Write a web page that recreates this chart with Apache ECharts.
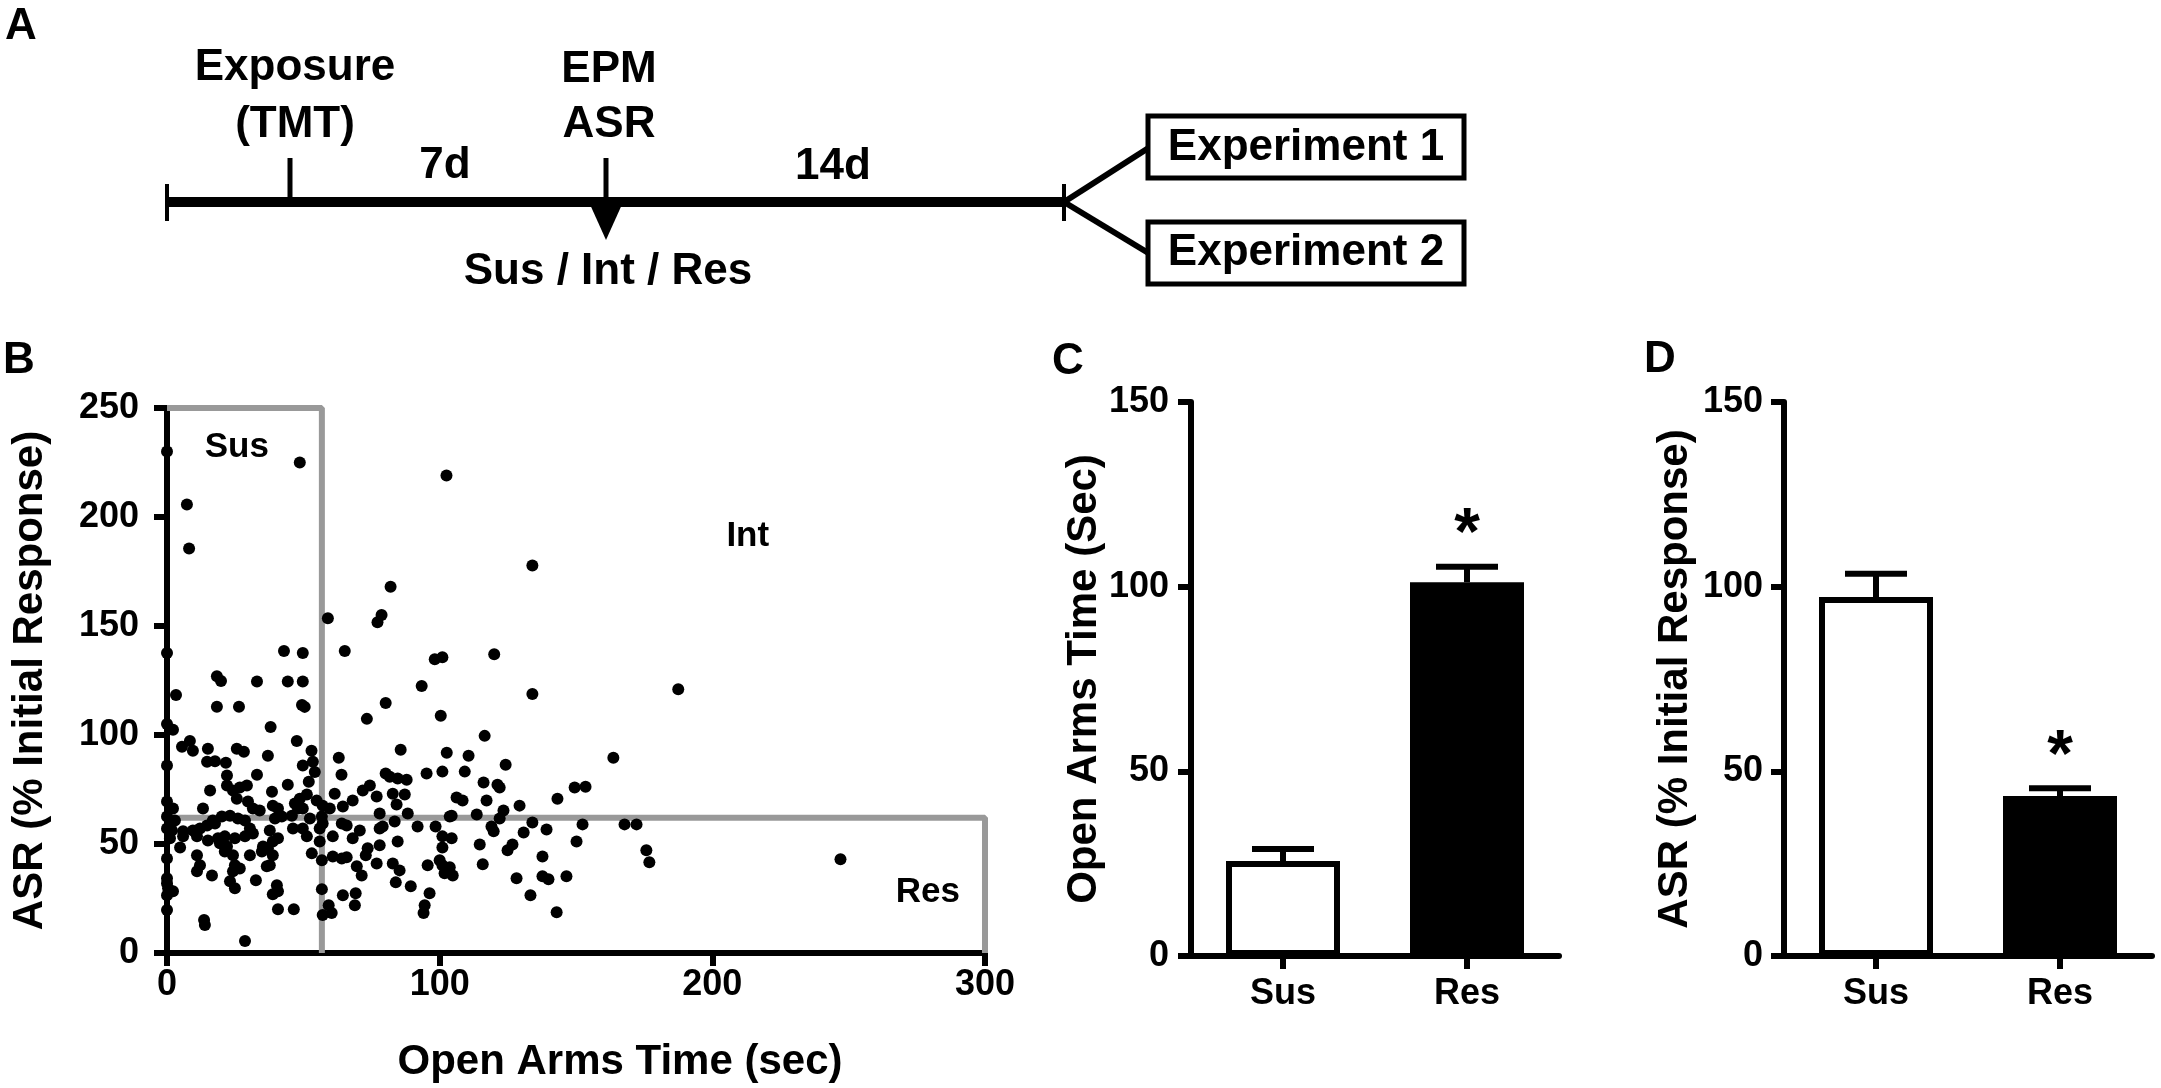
<!DOCTYPE html>
<html>
<head>
<meta charset="utf-8">
<title>TMT exposure: EPM / ASR</title>
<script src="https://cdn.jsdelivr.net/npm/echarts@6/dist/echarts.min.js"></script>
<style>
  html, body { margin: 0; padding: 0; background: #fff; }
  #main { width: 2161px; height: 1088px; }
</style>
</head>
<body>
<div id="main"></div>
<script>
// ---- data ----
// panel B: each rat, [open arms time (sec), ASR (% initial response)]
const scatterPoints = [
  [0,230],[48.7,225],[7.3,205.7],[8.1,185.6],[102.5,219],[82,168],[59,153.6],[77.2,151.7],[78.7,155],
  [0,137.6],[42.9,138.5],[49.8,137.6],[65.2,138.5],[98.2,134.8],[101,135.7],[120,137],
  [18.3,127],[19.8,124.8],[33,124.5],[44.3,124.5],[49.8,124.5],
  [3.3,118.4],[93.4,122.5],[18.3,113],[26.4,113],[49.5,113.8],[50.5,112.9],[80.2,114.7],[73.3,107.4],
  [100.4,108.8],[0,105],[2.2,102.4],[38,103.7],[47.6,97.3],[8.4,97.3],[5.5,94.6],[9.5,92.8],[15,93.7],
  [25.6,93.7],[28.2,92.3],[53,92.8],[85.7,93.2],[102.6,91.9],[37,90.5],[63,89.6],
  [0,86],[14.7,87.7],[17.6,88],[21.6,87.3],[49.8,86],[53.5,87.7],[54.2,83],
  [22,81.4],[22,76.8],[33,81.8],[64,81.8],[80.2,82.3],[81.7,80.9],[84.6,80],[87.9,79.5],[95.2,82.3],
  [101,83.2],[52,78.6],[44.3,77.2],[29.3,76.8],[26.7,75.9],[24.2,74.5],[71.8,74.5],[74.4,76.8],
  [15.8,74.5],[38.5,74],[61.5,73.1],[82.8,73.1],[87.2,72.7],[25.6,70.8],[76.9,71.8],[51.3,72.7],
  [48.7,70.8],[46.9,68.6],[68.1,70],[84.2,68.1],[0,69.5],[2.2,66.3],[13.2,66.3],[29.7,69.5],[31.5,66.3],
  [34,65.4],[38.8,67.6],[40.7,66.3],[54.9,69.9],[57.1,67.6],[59.7,66.3],[64.5,67.2],[78,64],[88.3,64],
  [103.7,62.6],[0,62.6],[2.9,60.8],[16.8,60.8],[20.1,62.6],[23.1,63],[26,61.7],[28.6,60.8],[39.6,61.7],
  [42.1,62.6],[45.8,63],[48,66.3],[49.8,66.3],[52.4,61.7],[56.8,62.6],[57.1,59.4],[64.1,59.4],[65.9,58.5],
  [83.5,60.3],[0,57.1],[1.8,56.2],[5.9,55.8],[9.5,56.2],[12.1,57.1],[14.7,58.5],[17.6,59.4],[30.4,57.1],
  [31.5,54.8],[37.7,56.2],[40.7,52.6],[38.8,51.2],[46.2,57.1],[49.8,57.1],[51.3,53.5],[56,57.1],
  [60.8,53.5],[70.7,56.2],[78,57.1],[79.1,58],[91.9,58],[98.5,58],[101,53.5],
  [1.1,52.6],[5.9,53.5],[11,53.5],[15,51.6],[18.7,52.6],[21.2,53.5],[24.9,52.6],[28.6,53.5],[19.4,50.3],
  [22,48.9],[35.2,48.9],[37,48],[56,51.2],[68.1,52.6],[84.6,51.2],[78,49.4],[4.8,48.4],[73.6,48],
  [72.9,44.8],[101,48.4],[11,44.8],[21.2,46.6],[24.2,44.8],[30.4,44.8],[34.8,46.6],[38.8,44.8],
  [53.1,45.7],[60.8,44.3],[64.1,43.4],[65.9,43.9],[0,43.4],[56.8,42.5],[76.9,41.1],[82.8,41.1],
  [85.3,37.9],[95.6,40.2],[100,42.5],[101,40.2],[12.1,40.2],[11,37.5],[24.9,40.2],[26.7,38.8],
  [24.2,37.5],[36.6,39.8],[37.7,40.2],[69.6,39.8],[71.4,35.6],[101.8,36.6],[16.5,35.6],
  [0,34.3],[0,32],[0.4,29.7],[2.2,28.3],[0,26.5],[23.1,32.9],[24.9,29.7],[32.6,33.4],[40.3,31.1],
  [38.8,27],[40.7,28.3],[56.8,29.3],[83.9,32.4],[89.4,30.6],[96.3,27.4],[64.5,26.5],[69.2,27.4],
  [0,19.7],[40.7,20.1],[46.5,20.1],[59.3,21.9],[60.4,18.3],[57.1,17.4],[68.9,21.9],[94.5,21.9],
  [94.1,18.3],[13.6,15.1],[13.9,12.8],[28.6,5.5],
  [134,177.8],[134,118.8],[187.5,121],[116.5,99.6],[110.6,90.5],[163.7,89.6],
  [124.2,86.4],[109.2,83.2],[116.1,78.2],[121.2,77.2],[122,75.9],[149.5,75.9],[153.5,76.3],
  [106.2,71.3],[108.4,70],[117.2,70],[143.2,70.8],[129.3,67.6],[123.4,65.4],[104.4,63],[113.6,63.5],
  [122,61.7],[134,59.9],[119,58],[119.8,55.8],[139.2,56.7],[152.4,59],[167.8,59],[172.2,59],
  [130.8,55.3],[104.4,52.6],[114.7,49.8],[126.7,49.8],[124.9,47.1],[150.2,51.2],[175.8,47.1],
  [176.9,41.6],[137.7,44.3],[115.8,40.7],[103.7,39.3],[104.8,35.6],[128.2,34.3],[137.7,35.2],
  [139.9,33.8],[146.5,35.2],[133.3,26.5],[142.9,18.7],[247,43]
];
// cut-off boxes drawn on panel B
const susBox = [[0, 250], [56.8, 250], [56.8, 0]];
const resBox = [[0, 62], [300, 62], [300, 0]];
const regionLabels = [['Sus', 25.6, 232], ['Int', 213, 191], ['Res', 279, 28]];

// panels C and D
const groups = ['Sus', 'Res'];
const openArmsMean = [25.7, 101.2];
const openArmsSem = [3.3, 4.2];
const asrMean = [97.2, 43.3];
const asrSem = [6.3, 2.1];
const starOpenArms = [[1, 117.5]];
const starAsr = [[1, 57.5]];

// tick labels
const scatterXTicks = [0, 100, 200, 300];
const scatterYTicks = [0, 50, 100, 150, 200, 250];
const barYTicks = [0, 50, 100, 150];

const FONT = '"Liberation Sans", Arial, sans-serif';
const chart = echarts.init(document.getElementById('main'));

function axisStyle(labelMargin) {
  return {
    axisLine: { show: true, onZero: false, lineStyle: { color: '#000', width: 6 } },
    axisTick: { show: true, inside: false, length: 13, lineStyle: { color: '#000', width: 6 } },
    axisLabel: { margin: labelMargin, color: '#000', fontSize: 36, fontWeight: 'bold', fontFamily: FONT },
    splitLine: { show: false },
    nameTextStyle: { color: '#000', fontSize: 42, fontWeight: 'bold', fontFamily: FONT }
  };
}

function valueAxis(gridIndex, ticks, labelMargin, extra) {
  return Object.assign(axisStyle(labelMargin), {
    type: 'value', gridIndex: gridIndex,
    min: ticks[0], max: ticks[ticks.length - 1], interval: ticks[1] - ticks[0],
    nameLocation: 'middle'
  }, extra);
}

function categoryAxis(gridIndex) {
  const a = Object.assign(axisStyle(20), {
    type: 'category', gridIndex: gridIndex, data: groups, boundaryGap: true
  });
  a.axisTick.alignWithLabel = true;
  return a;
}

function barData(means) {
  return means.map((v, i) => ({
    value: v,
    itemStyle: { color: i === 0 ? '#fff' : '#000', borderColor: '#000', borderWidth: 6 }
  }));
}

// upward-only error bar with cap
function errorItem(params, api) {
  const x = api.value(0), m = api.value(1), s = api.value(2);
  const p1 = api.coord([x, m]);
  const p2 = api.coord([x, m + s]);
  const st = { stroke: '#000', lineWidth: 6 };
  return {
    type: 'group',
    children: [
      { type: 'line', shape: { x1: p1[0], y1: p1[1], x2: p2[0], y2: p2[1] }, style: st },
      { type: 'line', shape: { x1: p2[0] - 31, y1: p2[1], x2: p2[0] + 31, y2: p2[1] }, style: st }
    ]
  };
}

function starItem(params, api) {
  const p = api.coord([api.value(0), api.value(1)]);
  return {
    type: 'text', x: p[0], y: p[1] + 14,
    style: { text: '*', fill: '#000', fontSize: 66, fontWeight: 'bold', fontFamily: FONT, align: 'center', verticalAlign: 'middle' }
  };
}

function textEl(text, x, y, size) {
  return {
    type: 'text', x: x, y: y, silent: true,
    style: { text: text, fill: '#000', fontSize: size, fontWeight: 'bold', fontFamily: FONT, align: 'center', verticalAlign: 'middle' }
  };
}
function lineEl(x1, y1, x2, y2, w) {
  return { type: 'line', silent: true, shape: { x1: x1, y1: y1, x2: x2, y2: y2 }, style: { stroke: '#000', lineWidth: w } };
}

// panel A, the experimental timeline
const timeline = [
  lineEl(167, 202, 1064, 202, 10),
  lineEl(167, 184, 167, 221, 4),
  lineEl(1064, 184, 1064, 221, 4),
  lineEl(290, 158, 290, 202, 5),
  lineEl(606, 158, 606, 202, 5),
  { type: 'polygon', silent: true, shape: { points: [[588, 200], [624, 200], [606, 240]] }, style: { fill: '#000' } },
  lineEl(1064, 202, 1150, 147, 6),
  lineEl(1064, 202, 1150, 254, 6),
  { type: 'rect', silent: true, shape: { x: 1148, y: 116, width: 316, height: 62 }, style: { fill: '#fff', stroke: '#000', lineWidth: 5 } },
  { type: 'rect', silent: true, shape: { x: 1148, y: 222, width: 316, height: 62 }, style: { fill: '#fff', stroke: '#000', lineWidth: 5 } },
  textEl('Exposure', 295, 68, 44),
  textEl('(TMT)', 295, 125, 44),
  textEl('EPM', 609, 70, 44),
  textEl('ASR', 609, 125, 44),
  textEl('7d', 445, 166, 44),
  textEl('14d', 833, 167, 44),
  textEl('Sus / Int / Res', 608, 272, 44),
  textEl('Experiment 1', 1306, 148, 44),
  textEl('Experiment 2', 1306, 253, 44),
  textEl('A', 21, 27, 44),
  textEl('B', 19, 361, 44),
  textEl('C', 1068, 362, 44),
  textEl('D', 1660, 360, 44)
];

chart.setOption({
  animation: false,
  backgroundColor: '#fff',
  graphic: timeline,
  grid: [
    { left: 167, top: 408, width: 818, height: 547 },
    { left: 1191, top: 402, width: 368, height: 554 },
    { left: 1784, top: 402, width: 368, height: 554 }
  ],
  xAxis: [
    valueAxis(0, scatterXTicks, 14, {
      name: 'Open Arms Time (sec)', nameGap: 88,
      nameTextStyle: { color: '#000', fontSize: 42, fontWeight: 'bold', fontFamily: FONT, padding: [0, 0, 0, 88] }
    }),
    categoryAxis(1),
    categoryAxis(2)
  ],
  yAxis: [
    valueAxis(0, scatterYTicks, 28, { name: 'ASR (% Initial Response)', nameGap: 116 }),
    valueAxis(1, barYTicks, 22, { name: 'Open Arms Time (Sec)', nameGap: 82 }),
    valueAxis(2, barYTicks, 21, { name: 'ASR (% Initial Response)', nameGap: 88 })
  ],
  series: [
    {
      type: 'line', xAxisIndex: 0, yAxisIndex: 0, data: susBox, symbol: 'none', z: 1, clip: false,
      lineStyle: { color: '#999', width: 6 }
    },
    {
      type: 'line', xAxisIndex: 0, yAxisIndex: 0, data: resBox, symbol: 'none', z: 1, clip: false,
      lineStyle: { color: '#999', width: 6 }
    },
    {
      type: 'scatter', xAxisIndex: 0, yAxisIndex: 0, data: scatterPoints, symbolSize: 12, z: 5, clip: false,
      itemStyle: { color: '#000', opacity: 1 }
    },
    {
      type: 'scatter', xAxisIndex: 0, yAxisIndex: 0, symbolSize: 0, z: 6,
      itemStyle: { opacity: 1 },
      data: regionLabels.map(r => ({ value: [r[1], r[2]], name: r[0] })),
      label: { show: true, position: 'inside', formatter: '{b}', color: '#000', opacity: 1, fontSize: 35, fontWeight: 'bold', fontFamily: FONT }
    },
    {
      type: 'bar', xAxisIndex: 1, yAxisIndex: 1, data: barData(openArmsMean), barWidth: 114, z: 2
    },
    {
      type: 'custom', xAxisIndex: 1, yAxisIndex: 1, z: 3, renderItem: errorItem,
      data: openArmsMean.map((m, i) => [i, m, openArmsSem[i]])
    },
    {
      type: 'custom', xAxisIndex: 1, yAxisIndex: 1, z: 3, renderItem: starItem, data: starOpenArms
    },
    {
      type: 'bar', xAxisIndex: 2, yAxisIndex: 2, data: barData(asrMean), barWidth: 114, z: 2
    },
    {
      type: 'custom', xAxisIndex: 2, yAxisIndex: 2, z: 3, renderItem: errorItem,
      data: asrMean.map((m, i) => [i, m, asrSem[i]])
    },
    {
      type: 'custom', xAxisIndex: 2, yAxisIndex: 2, z: 3, renderItem: starItem, data: starAsr
    }
  ]
});
</script>
</body>
</html>
